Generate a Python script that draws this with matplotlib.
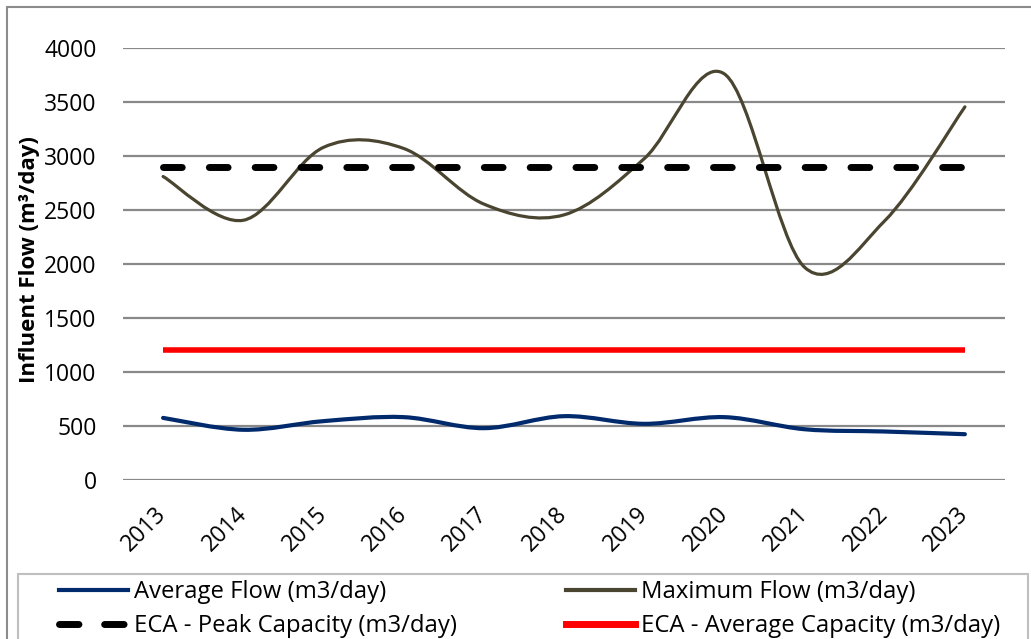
import matplotlib
matplotlib.use("Agg")
import matplotlib.pyplot as plt
from matplotlib.path import Path
from matplotlib.patches import PathPatch, Rectangle
from matplotlib.lines import Line2D
import numpy as np

plt.rcParams['font.family'] = ['Open Sans', 'DejaVu Sans']

years = ['2013', '2014', '2015', '2016', '2017', '2018', '2019', '2020', '2021', '2022', '2023']
avg_flow = [575, 465, 545, 582, 480, 591, 520, 582, 470, 449, 424]
max_flow = [2810, 2405, 3080, 3070, 2555, 2455, 2975, 3760, 1970, 2400, 3455]
peak_capacity = [2900] * len(years)
avg_capacity = [1200] * len(years)


# smoothed line like excel (catmull-rom -> bezier)
def smooth_path(xs, ys):
    pts = np.column_stack([xs, ys]).astype(float)
    n = len(pts)
    verts = [pts[0]]
    codes = [Path.MOVETO]
    for i in range(n - 1):
        p0 = pts[i - 1] if i > 0 else pts[i]
        p1 = pts[i]
        p2 = pts[i + 1]
        p3 = pts[i + 2] if i + 2 < n else pts[i + 1]
        c1 = p1 + (p2 - p0) / 6
        c2 = p2 - (p3 - p1) / 6
        verts += [c1, c2, p2]
        codes += [Path.CURVE4] * 3
    return Path(verts, codes)


W, H = 1031, 639
fig = plt.figure(figsize=(W / 100, H / 100), dpi=100)
ax = fig.add_axes([123 / W, 1 - 480 / H, (1005 - 123) / W, (480 - 48) / H])

x = np.arange(len(years))
grid_col = '#898989'

ax.add_patch(PathPatch(smooth_path(x, max_flow), fill=False, edgecolor='#4a4530', lw=2.3,
                       capstyle='round', zorder=3))
ax.add_patch(PathPatch(smooth_path(x, avg_flow), fill=False, edgecolor='#002a6c', lw=3,
                       capstyle='round', zorder=3))
ax.plot(x, peak_capacity, color='black', lw=5, dashes=(2.7, 3.9), dash_capstyle='round', zorder=4)
ax.plot(x, avg_capacity, color='#ff0000', lw=4, solid_capstyle='butt', zorder=4)

ax.set_xlim(-0.5, len(years) - 0.5)
ax.set_ylim(0, 4000)
ax.set_yticks(range(0, 4001, 500))
ax.set_xticks(x)
ax.set_xticklabels(years, rotation=45, ha='right', va='center', rotation_mode='anchor')
ax.tick_params(axis='x', length=0, pad=22, labelsize=16.5)
ax.tick_params(axis='y', length=0, pad=19, labelsize=16.5)
for s in ax.spines.values():
    s.set_visible(False)
ax.grid(axis='y', color=grid_col, lw=1.6)
ax.set_axisbelow(True)

fig.text(30 / W, 1 - 260 / H, 'Influent Flow (m³/day)', rotation=90, ha='center', va='center',
         fontsize=16, fontweight='bold')

# chart border
fig.patches.append(Rectangle((7 / W, -0.1), 1.2, 1 - 7 / H + 0.1, transform=fig.transFigure,
                             fill=False, edgecolor='#8c8c8c', lw=1.5))
# legend box
fig.patches.append(Rectangle((18 / W, -0.1), (1028 - 18) / W, 1 - 574 / H + 0.1,
                             transform=fig.transFigure, fill=True, facecolor='white',
                             edgecolor='#bfbfbf', lw=1.5, zorder=5))

col1 = [Line2D([], [], color='#002a6c', lw=3),
        Line2D([], [], color='black', lw=5, dashes=(2.8, 3.7), dash_capstyle='round')]
col2 = [Line2D([], [], color='#4a4530', lw=3),
        Line2D([], [], color='#ff0000', lw=5)]
lab1 = ['Average Flow (m3/day)', 'ECA - Peak Capacity (m3/day)']
lab2 = ['Maximum Flow (m3/day)', 'ECA - Average Capacity (m3/day)']

for hs, ls, x0 in [(col1, lab1, 59), (col2, lab2, 566)]:
    leg = fig.legend(hs, ls, loc='upper left', bbox_to_anchor=(x0 / W, 1 - 580 / H),
                     fontsize=17.2, frameon=False, handlelength=2.9, handletextpad=0.22,
                     labelspacing=0.42, borderpad=0, borderaxespad=0)
    leg.set_zorder(6)

fig.savefig('out.png', dpi=100)
